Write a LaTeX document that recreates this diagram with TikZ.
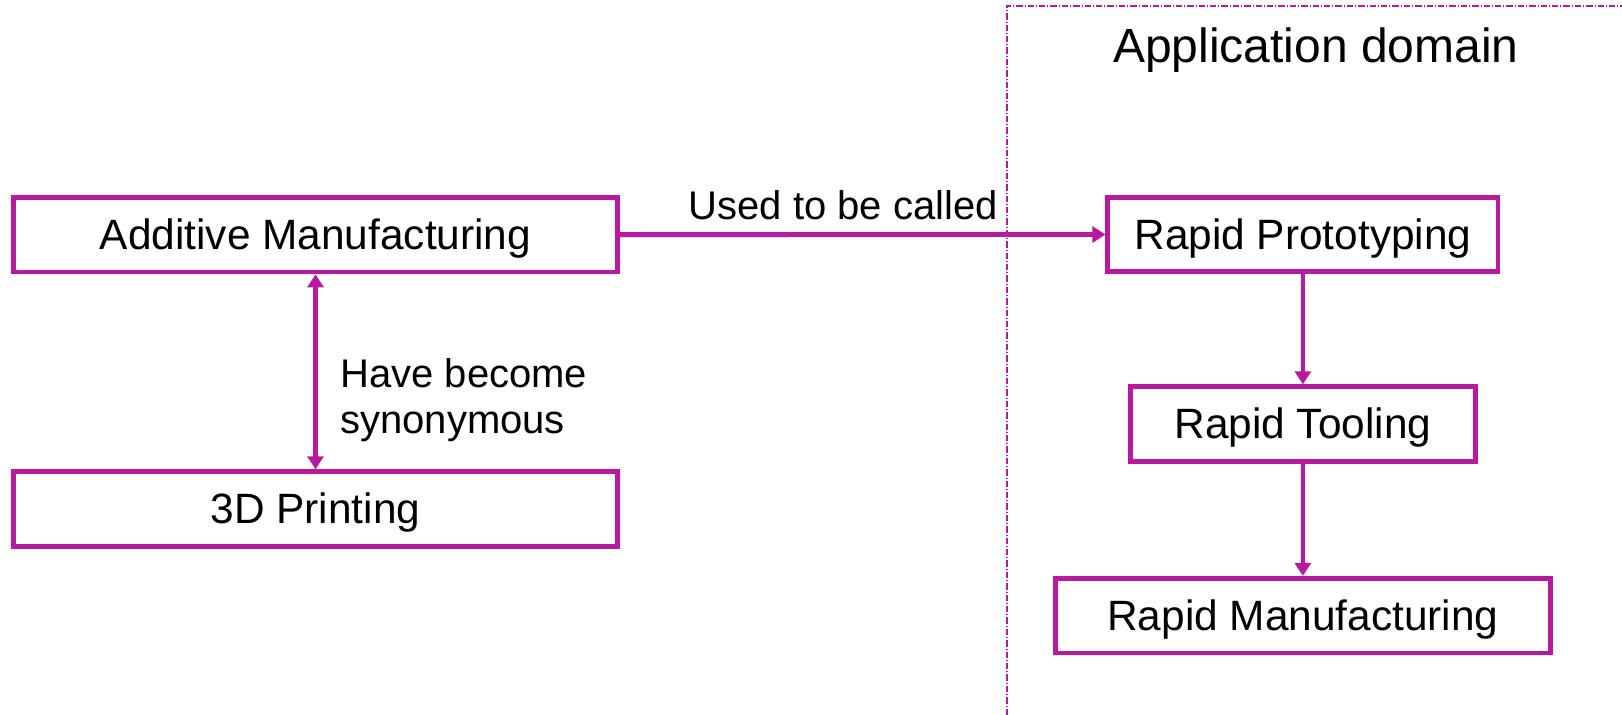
\documentclass[tikz,border=0pt]{standalone}
\usepackage{fontspec}
\setmainfont{Liberation Sans}
\usetikzlibrary{arrows.meta}
\usetikzlibrary{positioning}

\definecolor{amviolet}{RGB}{187,24,160}

\begin{document}
\begin{tikzpicture}[x = 0.5pt, y = -0.5pt, amviolet, line width = 2.4pt,
    stage/.style = {draw, fill = white, minimum height = 37.3pt, inner sep = 0pt, text = black,
                    font = \fontsize{21.2}{25}\selectfont, text height = 15pt, text depth = 0pt},
    note/.style = {text = black, inner sep = 0pt, font = \fontsize{20}{23.3}\selectfont},
    link/.style = {-{Triangle[length = 6.5pt, width = 8pt]}}]

    \useasboundingbox (0,0) rectangle (1622,715);

    % application domain border
    \draw[line width = 0.7pt, dash pattern = on 3.2pt off 1pt on 0.5pt off 1pt] (1007,715) |- (1622,6);
    \node (domain) at (1316,62.7) [note, anchor = base, font = \fontsize{24}{28}\selectfont] {Application domain};

    \begin{scope}[on grid]

        \node (AM) at (315.5,234.7) [stage, minimum width = 301.8pt] {Additive Manufacturing};
        \node (DP) [stage, minimum width = 301.8pt, below = 137.15pt of AM] {3D Printing};

        \draw[{Triangle[length = 6.5pt, width = 8pt]}-{Triangle[length = 6.5pt, width = 8pt]}] (AM) -- (DP);
        \node (syn) at (338,356) [note, anchor = north west, align = left] {Have become\\synonymous};

    \end{scope}

    \begin{scope}[on grid]

        \node (RP) at (1302.9,234.5) [stage, minimum width = 195.1pt] {Rapid Prototyping};
        \node (RT) [stage, minimum width = 172.6pt, below = 94.75pt of RP] {Rapid Tooling};
        \node (RM) [stage, minimum width = 247.8pt, below = 95.8pt of RT] {Rapid Manufacturing};

        \draw[link] (RP) -- (RT);
        \draw[link] (RT) -- (RM);

    \end{scope}

    \draw[link] (AM) -- node (called) [note, above = 6pt, pos = 0.46] {Used to be called} (RP);

\end{tikzpicture}
\end{document}
